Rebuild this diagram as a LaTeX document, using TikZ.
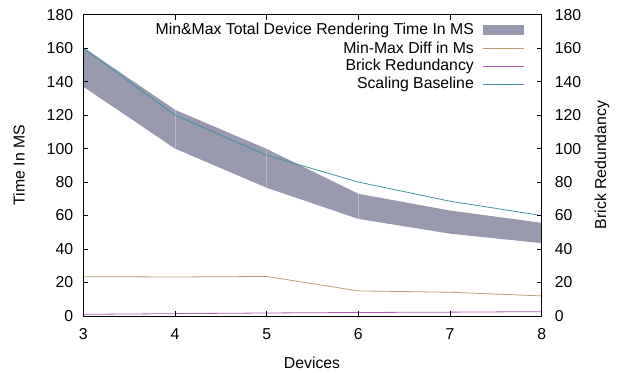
\documentclass[tikz,border=0pt]{standalone}
\usepackage{fontspec}
\setmainfont{Liberation Sans}
\begin{document}
\begin{tikzpicture}[
  lbl/.style={font=\fontsize{15.8}{17}\selectfont, inner sep=0pt},
  tick/.style={black, line width=0.6pt},
  border/.style={black, line width=0.9pt},
  series/.style={line width=0.8pt},
]
\definecolor{bandfill}{RGB}{152,152,174}
\definecolor{seam}{RGB}{185,185,202}
\definecolor{diffc}{RGB}{185,160,112}
\definecolor{brickc}{RGB}{180,95,180}
\definecolor{basec}{RGB}{66,146,158}

\useasboundingbox (0,0) rectangle (620pt,372pt);

% data frame: x = devices, y = milliseconds
\begin{scope}[shift={(-191.74pt,56pt)}, x=91.68pt, y=1.674pt]
  % min/max band
  \fill[bandfill] (3,160.5) -- (4,123.2) -- (5,99.8) -- (6,73) -- (7,63) -- (8,55.7)
                  -- (8,43.5) -- (7,49.2) -- (6,58) -- (5,76.6) -- (4,100) -- (3,137) -- cycle;
  \draw[seam, line width=0.5pt] (4,123.2) -- (4,100) (5,99.8) -- (5,76.6) (6,73) -- (6,58);

  % series curves
  \draw[series, diffc] (3,23.5) -- (4,23.3) -- (5,23.6) -- (6,15) -- (7,14.2) -- (8,12);
  \draw[series, brickc] (3,1) -- (4,1.4) -- (5,1.8) -- (6,2.1) -- (7,2.3) -- (8,2.6);
  \draw[series, basec] (3,160) -- (4,120) -- (5,96) -- (6,80) -- (7,68.57) -- (8,60);

  % ticks on all four sides
  \foreach \v in {20,40,...,160} {
    \draw[tick] (3,\v) -- ++(5pt,0);
    \draw[tick] (8,\v) -- ++(-5pt,0);
  }
  \foreach \d in {4,5,6,7} {
    \draw[tick] (\d,0) -- ++(0,5pt);
    \draw[tick] (\d,180) -- ++(0,-5pt);
  }

  % frame
  \draw[border] (3,0) rectangle (8,180);

  % tick labels
  \foreach \v in {0,20,...,180} {
    \node[lbl, anchor=east] (yl\v) at ([xshift=-10pt]3,\v) {\v};
    \node[lbl, anchor=west] (yr\v) at ([xshift=13pt]8,\v) {\v};
  }
  \foreach \d in {3,...,8} {
    \node[lbl] (xl\d) at ([yshift=-18pt]\d,0) {\d};
  }

  % legend
  \node[lbl, anchor=east] (k1) at (7.262,170.7) {Min\&Max Total Device Rendering Time In MS};
  \node[lbl, anchor=east] (k2) at (7.262,160.0) {Min-Max Diff in Ms};
  \node[lbl, anchor=east] (k3) at (7.262,149.2) {Brick Redundancy};
  \node[lbl, anchor=east] (k4) at (7.262,138.4) {Scaling Baseline};
  \fill[bandfill] ([xshift=9pt,yshift=-5pt]k1.east) rectangle ++(41pt,10pt);
  \draw[series, diffc]  ([xshift=9pt]k2.east) -- ++(41pt,0);
  \draw[series, brickc] ([xshift=9pt]k3.east) -- ++(41pt,0);
  \draw[series, basec]  ([xshift=9pt]k4.east) -- ++(41pt,0);
\end{scope}

% axis titles
\node[lbl, rotate=90] (ytitle) at (19pt,207pt) {Time In MS};
\node[lbl, rotate=90] (y2title) at (602pt,207pt) {Brick Redundancy};
\node[lbl] (xtitle) at (312pt,9pt) {Devices};
\end{tikzpicture}
\end{document}
